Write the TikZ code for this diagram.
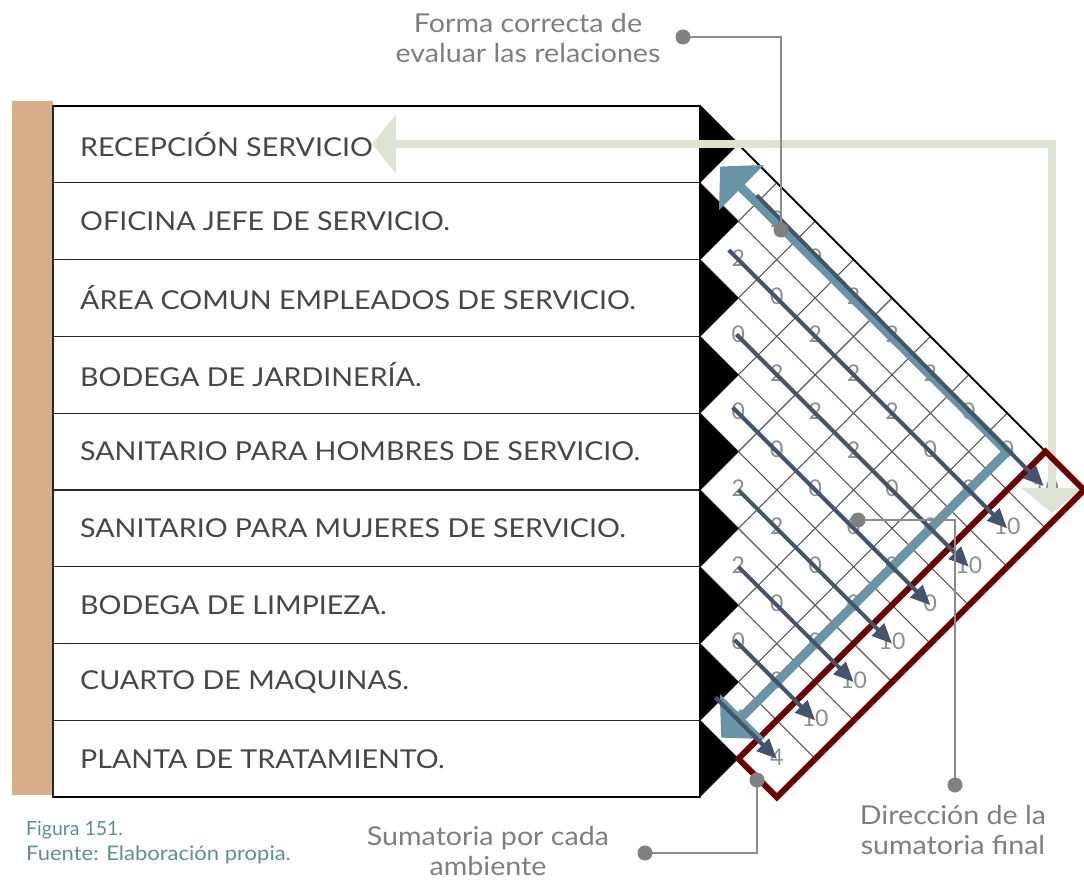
\documentclass[tikz,border=0pt]{standalone}
\usepackage{fontspec}
\setmainfont{Lato}
\usetikzlibrary{arrows.meta}
\definecolor{brownbar}{HTML}{D8AE88}
\definecolor{rowgray}{HTML}{474747}
\definecolor{gridgray}{HTML}{555555}
\definecolor{numgray}{HTML}{8E8E8E}
\definecolor{darkblue}{HTML}{44546A}
\definecolor{steel}{HTML}{6895A5}
\definecolor{palegreen}{HTML}{DCE3D3}
\definecolor{darkred}{HTML}{6B0000}
\definecolor{dotgray}{HTML}{808080}
\definecolor{linegray}{HTML}{8C8C8C}
\definecolor{textgray}{HTML}{7F7F7F}
\definecolor{captionteal}{HTML}{5E8D9D}
\begin{document}
\begin{tikzpicture}[x=1pt,y=-1pt,
  rowcell/.style={draw=black!85, line width=1.2pt, minimum width=647pt, minimum height=76.8pt, inner sep=0pt, outer sep=0pt},
  rowtext/.style={anchor=west, text=rowgray, font=\fontsize{26}{30}\selectfont\addfontfeature{FakeStretch=1.1}, inner sep=0pt},
  gridline/.style={draw=gridgray, line width=1.1pt},
  num/.style={text=numgray, font=\fontsize{23}{26}\selectfont, inner sep=0pt},
  darkarrow/.style={draw=darkblue, line width=4pt, -{Triangle[length=20pt,width=17pt]}},
  steelarrow/.style={draw=steel, line width=9pt, line join=miter, {Triangle[length=30pt,width=62pt]}-{Triangle[length=30pt,width=62pt]}},
  greenarrow/.style={draw=palegreen, line width=8pt, line join=miter, {Triangle[length=24pt,width=58pt]}-{Triangle[length=25pt,width=60pt]}},
  redbox/.style={draw=darkred, line width=6pt, line join=miter},
  dot/.style={circle, fill=dotgray, minimum size=15pt, inner sep=0pt},
  callline/.style={draw=linegray, line width=1.2pt},
  calltext/.style={text=textgray, align=center, font=\fontsize{26}{30}\selectfont\addfontfeature{FakeStretch=1.1}},
  captext/.style={text=captionteal, anchor=west, inner sep=0pt},
]
\useasboundingbox (0,0) rectangle (1084,881);

% brown bar
\fill[brownbar] (12,101) rectangle (53,795);

% table rows
\foreach \i/\t in {1/RECEPCIÓN SERVICIO,2/OFICINA JEFE DE SERVICIO.,3/ÁREA COMUN EMPLEADOS DE SERVICIO.,4/BODEGA DE JARDINERÍA.,5/SANITARIO PARA HOMBRES DE SERVICIO.,6/SANITARIO PARA MUJERES DE SERVICIO.,7/BODEGA DE LIMPIEZA.,8/CUARTO DE MAQUINAS.,9/PLANTA DE TRATAMIENTO.}{
  \node[rowcell] (row\i) at (376.5,{106+76.8*\i-38.4}) {};
  \node[rowtext] (txt\i) at (80,{106+76.8*\i-38.4}) {\t};
}
\draw[line width=2pt] (row1.north west) -- (row1.north east);
\draw[line width=2pt] (row9.south west) -- (row9.south east);
\draw[line width=1.5pt] (row1.north east) -- (row9.south east);

% relation matrix (B,A) coordinates
\begin{scope}[shift={(700,106)}, x={(19.2pt,-19.2pt)}, y={(-19.2pt,-19.2pt)}]
  \foreach \k in {1,...,8} \draw[gridline] ({2*\k},{2*\k}) -- (20,{2*\k});
  \foreach \k in {2,...,9} \draw[gridline] ({2*\k},0) -- ({2*\k},{min(2*\k,16)});
  % numbers
  \foreach \i/\j/\v in {1/2/2,1/3/2,1/4/0,1/5/2,1/6/2,1/7/2,1/8/0,1/9/0,
    2/3/2,2/4/0,2/5/2,2/6/2,2/7/2,2/8/0,2/9/0,
    3/4/0,3/5/2,3/6/2,3/7/2,3/8/0,3/9/0,
    4/5/0,4/6/0,4/7/0,4/8/0,4/9/0,
    5/6/2,5/7/2,5/8/0,5/9/0,
    6/7/2,6/8/0,6/9/0,
    7/8/0,7/9/0,
    8/9/4,
    1/10/10,2/10/10,3/10/10,4/10/0,5/10/10,6/10/10,7/10/10,8/10/4}
    \node[num] (n\i-\j) at ({2*\j-1.05},{2*\i-1.05}) {\v};
  % black triangles
  \foreach \k in {1,...,9} \fill ({2*\k-2},{2*\k-2}) -- ({2*\k},{2*\k-2}) -- ({2*\k},{2*\k}) -- cycle;
  % outer border
  \coordinate (o1) at (0,0);
  \coordinate (o2) at (18,0);
  \draw[line width=2pt] (o1) -- (o2);
\end{scope}

% green arrow
\coordinate (gL) at (372,144);
\coordinate (gC) at (1052,144);
\coordinate (gB) at (1052,513);
\draw[greenarrow] (gL) -- (gC) -- (gB);

\begin{scope}[shift={(700,106)}, x={(19.2pt,-19.2pt)}, y={(-19.2pt,-19.2pt)}]
  % red sum box
  \coordinate (r1) at (18,0);
  \coordinate (r2) at (20,0);
  \coordinate (r3) at (20,16);
  \coordinate (r4) at (18,16);
  \draw[redbox] (r1) -- (r2) -- (r3) -- (r4) -- cycle;
  % steel arrow
  \coordinate (s1) at (2.1,1.05);
  \coordinate (s2) at (17,1.0);
  \coordinate (s3) at (17,15.9);
  \draw[steelarrow] (s1) -- (s2) -- (s3);
  % dark arrows
  \coordinate (ds1) at (3.8,0.85);
  \coordinate (de1) at (18.85,0.95);
  \draw[darkarrow] (ds1) -- (de1);
  \foreach \i/\bs in {2/4.5,3/6.9,4/8.7,5/11,6/13,7/14.8,8/15.8}{
    \coordinate (ds\i) at (\bs,{2*\i-1});
    \coordinate (de\i) at (19.0,{2*\i-1});
    \draw[darkarrow] (ds\i) -- (de\i);
  }
\end{scope}

% callouts
\node[calltext] (c1) at (528,38) {Forma correcta de\\evaluar las relaciones};
\node[calltext] (c2) at (953,830) {Dirección de la\\sumatoria final};
\node[calltext] (c3) at (488,851) {Sumatoria por cada\\ambiente};
\coordinate (d1) at (683,37);
\coordinate (d2) at (781,230);
\coordinate (d3) at (955,785);
\coordinate (d4) at (858,520);
\coordinate (d5) at (645,853);
\coordinate (d6) at (757,780);
\draw[callline] (d1) -| (d2);
\draw[callline] (d3) |- (d4);
\draw[callline] (d5) -| (d6);
\foreach \d in {d1,d2,d3,d4,d5,d6} \node[dot] (dot-\d) at (\d) {};

% caption
\node[captext, font=\fontsize{19.5}{22}\selectfont] (fig) at (26,830) {Figura 151.};
\node[captext, font=\fontsize{20}{22}\selectfont\addfontfeature{FakeStretch=1.1}] (src) at (26,855) {Fuente: Elaboración propia.};
\end{tikzpicture}
\end{document}
